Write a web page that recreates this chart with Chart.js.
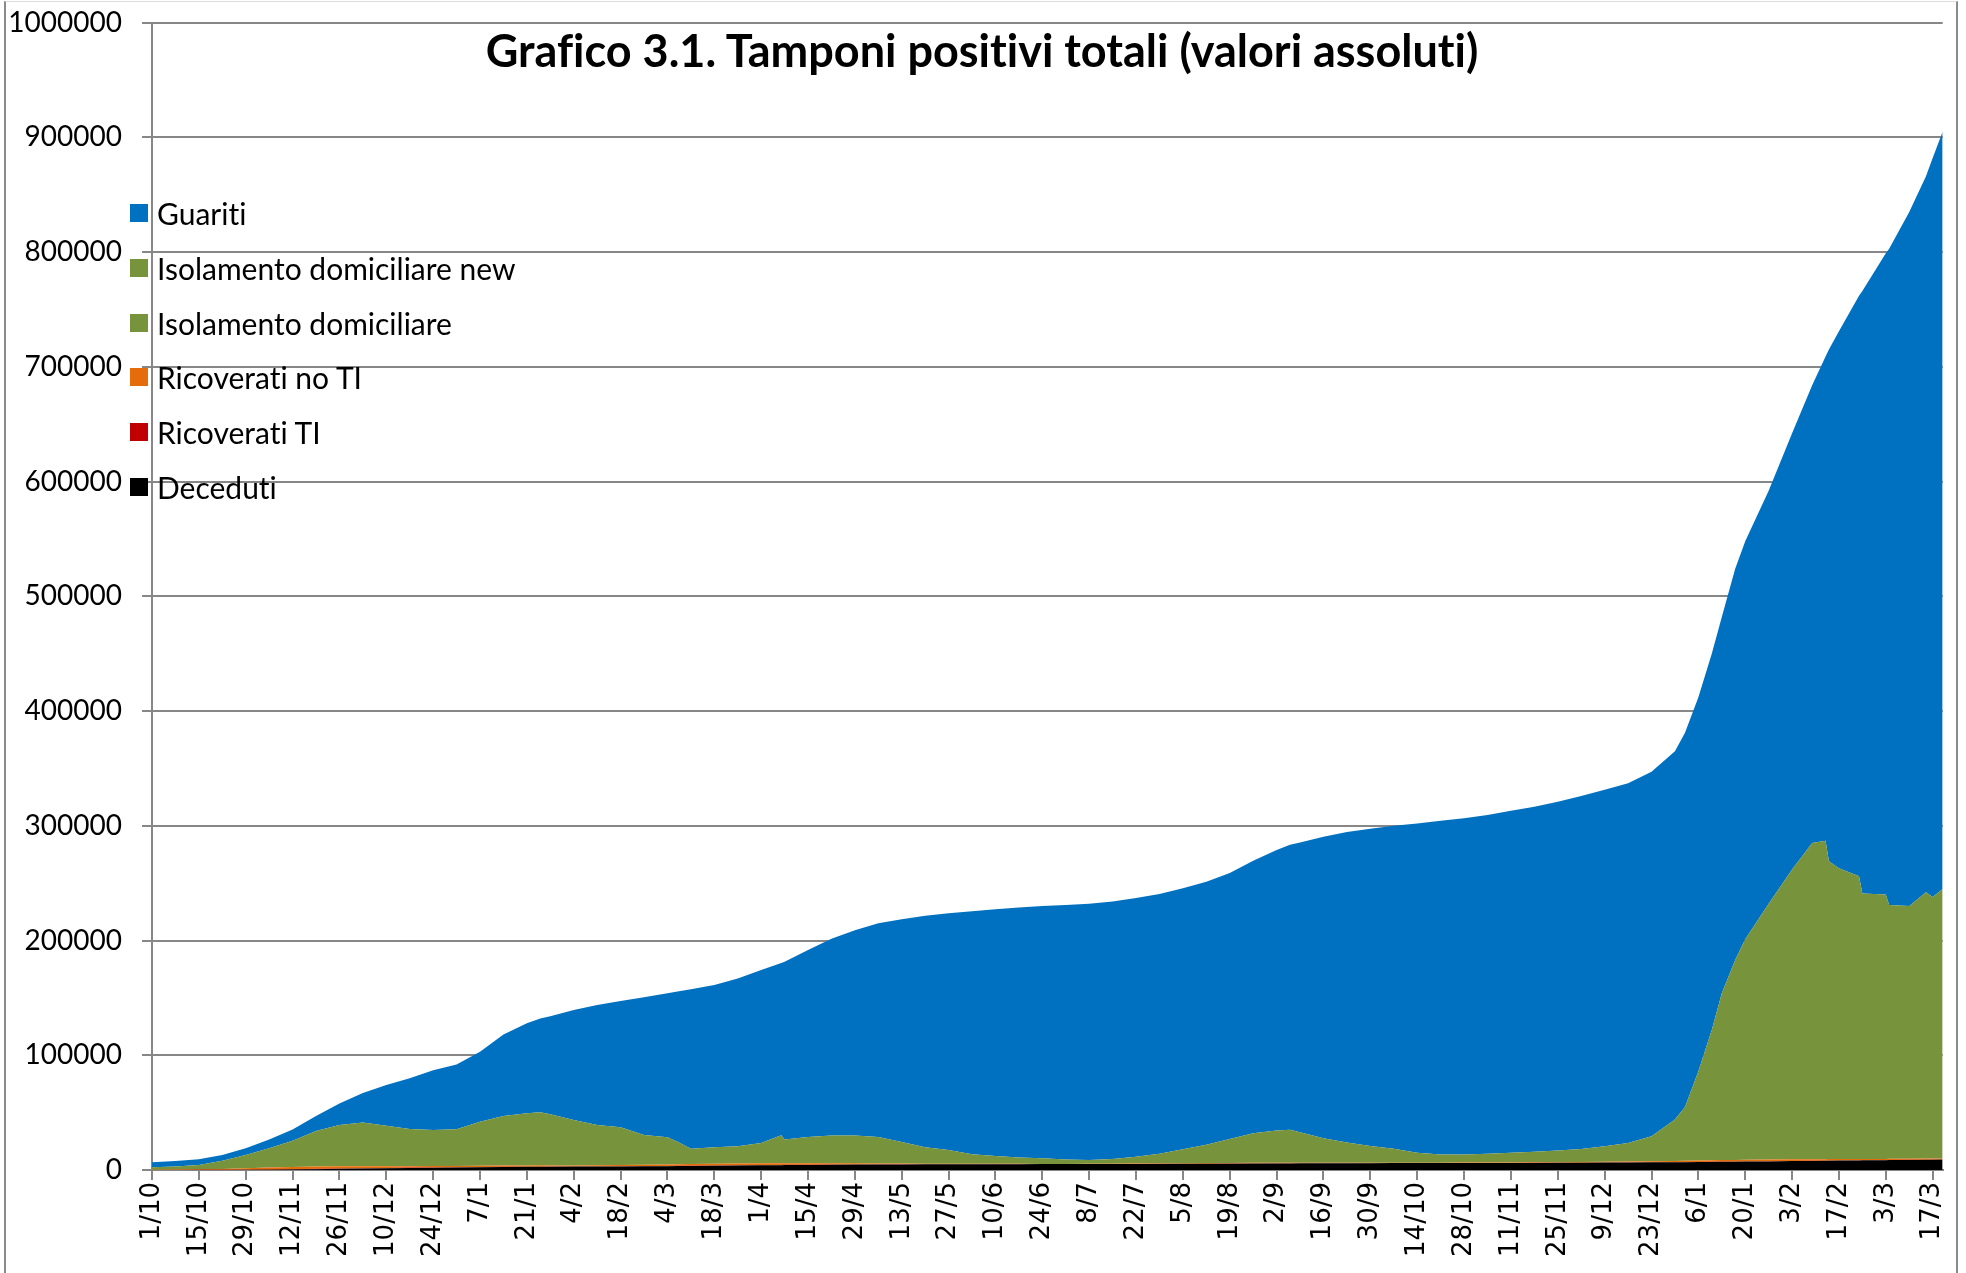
<!DOCTYPE html>
<html lang="it">
<head>
<meta charset="utf-8">
<title>Grafico 3.1. Tamponi positivi totali (valori assoluti)</title>
<script src="https://cdn.jsdelivr.net/npm/chart.js@4.4.1/dist/chart.umd.min.js"></script>
<style>
  html, body { margin: 0; padding: 0; background: #fff; }
  #wrap { position: relative; width: 1966px; height: 1273px; overflow: hidden; background: #fff; }
  #chart { position: absolute; left: 0; top: 0; }
  #frame { position: absolute; left: 4px; top: 1px; width: 1954px; height: 1300px; box-sizing: border-box;
           border-left: 2px solid #8a8a8a; border-right: 2px solid #8a8a8a; border-top: 1px solid #dcdcdc; pointer-events: none; }
  #title { position: absolute; left: 0; width: 1964px; top: 23px; text-align: center; line-height: 54px;
           font: bold 45px Lato, "Open Sans", sans-serif; color: #000; font-variant-ligatures: none; }
  #legend { position: absolute; left: 130px; top: 186px; list-style: none; margin: 0; padding: 0;
            font: 30px Lato, "Open Sans", sans-serif; color: #000; font-variant-ligatures: none; }
  #legend li { height: 54.7px; display: flex; align-items: center; }
  #legend .sw { width: 18px; height: 18px; margin-right: 9px; flex: none; }
</style>
</head>
<body>
<div id="wrap">
  <canvas id="chart" width="1966" height="1273"></canvas>
  <div id="title">Grafico 3.1. Tamponi positivi totali (valori assoluti)</div>
  <ul id="legend"></ul>
  <div id="frame"></div>
</div>
<script>
// giorni trascorsi dall'1/10/2020
const days = [0, 7, 14, 21, 28, 35, 42, 49, 56, 63,
  70, 77, 84, 91, 98, 105, 112, 116, 119, 126,
  133, 140, 147, 154, 157, 161, 168, 175, 182, 188,
  189, 196, 203, 210, 217, 224, 231, 238, 245, 252,
  259, 266, 273, 280, 287, 294, 301, 308, 315, 322,
  329, 336, 340, 343, 350, 357, 364, 371, 378, 385,
  392, 399, 406, 413, 420, 427, 434, 441, 448, 455,
  458, 462, 466, 469, 473, 476, 483, 490, 496, 500,
  501, 504, 510, 511, 518, 519, 525, 530, 532, 535];

const tickLabels = ['1/10', '15/10', '29/10', '12/11', '26/11', '10/12', '24/12', '7/1', '21/1', '4/2',
  '18/2', '4/3', '18/3', '1/4', '15/4', '29/4', '13/5', '27/5', '10/6', '24/6',
  '8/7', '22/7', '5/8', '19/8', '2/9', '16/9', '30/9', '14/10', '28/10', '11/11',
  '25/11', '9/12', '23/12', '6/1', '20/1', '3/2', '17/2', '3/3', '17/3'];

const deceduti = [0, 20, 50, 100, 170, 300, 500, 750, 1000, 1300,
  1600, 1850, 2050, 2250, 2450, 2600, 2750, 2800, 2850, 2950,
  3050, 3150, 3250, 3350, 3400, 3500, 3650, 3850, 4050, 4200,
  4250, 4400, 4550, 4700, 4800, 4900, 4950, 5000, 5050, 5100,
  5100, 5150, 5150, 5200, 5200, 5250, 5300, 5350, 5400, 5500,
  5600, 5700, 5750, 5800, 5850, 5900, 5950, 6000, 6000, 6050,
  6100, 6100, 6150, 6200, 6250, 6350, 6450, 6550, 6650, 6750,
  6800, 6900, 7000, 7100, 7200, 7300, 7500, 7750, 7950, 8050,
  8100, 8200, 8350, 8400, 8600, 8620, 8800, 8950, 9000, 9100];

const ricoveratiTI = [20, 40, 60, 80, 100, 170, 250, 280, 300, 280,
  250, 220, 200, 180, 150, 150, 140, 140, 140, 130,
  140, 150, 170, 200, 220, 240, 280, 280, 280, 260,
  260, 230, 200, 180, 150, 120, 100, 80, 60, 50,
  40, 30, 30, 30, 40, 50, 60, 70, 80, 80,
  80, 80, 80, 70, 70, 60, 50, 50, 50, 40,
  40, 40, 40, 50, 60, 70, 80, 100, 110, 120,
  130, 140, 150, 150, 150, 150, 140, 130, 120, 110,
  110, 100, 90, 90, 80, 80, 70, 70, 70, 60];

const ricoveratiNoTI = [200, 300, 500, 800, 1200, 1600, 1900, 2000, 1900, 1700,
  1500, 1300, 1200, 1100, 1100, 1100, 1100, 1100, 1000, 950,
  900, 950, 1100, 1300, 1400, 1500, 1600, 1600, 1500, 1400,
  1400, 1300, 1100, 950, 800, 650, 500, 400, 300, 250,
  200, 150, 150, 150, 200, 300, 400, 500, 550, 600,
  600, 600, 550, 500, 450, 400, 350, 300, 300, 300,
  300, 300, 350, 400, 450, 500, 600, 700, 800, 1000,
  1100, 1200, 1300, 1400, 1450, 1500, 1500, 1450, 1350, 1300,
  1300, 1200, 1100, 1100, 1000, 1000, 950, 900, 900, 900];

const isolamento = [2080, 2640, 3790, 7020, 11530, 16930, 22950, 30970, 36000, 38220,
  35150, 32430, 31450, 31970, 38300, 43150, 45410, 46260, 44510, 39570,
  35110, 32950, 25980, 23650, 19680, 13260, 14270, 15070, 17670, 24340,
  20690, 22870, 24250, 24270, 23050, 18830, 14250, 11920, 8390, 6800,
  5660, 4870, 3870, 3320, 4160, 5900, 8440, 12080, 15970, 20820,
  25720, 28120, 28620, 26630, 21230, 17640, 14650, 12150, 8650, 7010,
  7060, 7760, 8460, 9350, 10240, 11380, 13670, 16150, 21940, 36130,
  46970, 77760, 113550, 145350, 174200, 192050, 222860, 252670, 275580, 277540,
  259490, 253500, 246460, 231410, 230320, 221300, 220180, 232080, 228030, 234940];

const isolamentoNew = [0, 0, 0, 0, 0, 0, 0, 0, 0, 0,
  0, 0, 0, 0, 0, 0, 0, 0, 0, 0,
  0, 0, 0, 0, 0, 0, 0, 0, 0, 0,
  0, 0, 0, 0, 0, 0, 0, 0, 0, 0,
  0, 0, 0, 0, 0, 0, 0, 0, 0, 0,
  0, 0, 0, 0, 0, 0, 0, 0, 0, 0,
  0, 0, 0, 0, 0, 0, 0, 0, 0, 0,
  0, 0, 0, 0, 0, 0, 0, 0, 0, 0,
  0, 0, 0, 0, 0, 0, 0, 0, 0, 0];

const guariti = [4400, 4800, 4900, 5000, 5900, 7500, 9800, 13000, 18800, 25500,
  35500, 44200, 52100, 56500, 61000, 71000, 78600, 81700, 85500, 95900,
  104600, 110100, 120000, 125500, 130800, 139000, 141400, 146200, 150800, 150300,
  154900, 162900, 171400, 178900, 186200, 194000, 201700, 206300, 211700, 215000,
  217700, 219800, 221800, 223300, 224400, 225500, 226300, 227500, 229300, 231800,
  237500, 244500, 248500, 252500, 262900, 270500, 276500, 281500, 287000, 290900,
  293000, 295300, 298000, 300500, 304000, 307700, 310700, 313500, 317500, 321000,
  326000, 326000, 328000, 328000, 341000, 347000, 360000, 380000, 399000, 422000,
  446000, 468000, 506000, 525000, 559000, 572000, 605000, 624000, 644000, 660000];

const series = [
  { label: 'Deceduti', values: deceduti, color: '#000000' },
  { label: 'Ricoverati TI', values: ricoveratiTI, color: '#C00000' },
  { label: 'Ricoverati no TI', values: ricoveratiNoTI, color: '#E46C0A' },
  { label: 'Isolamento domiciliare', values: isolamento, color: '#77933C' },
  { label: 'Isolamento domiciliare new', values: isolamentoNew, color: '#77933C' },
  { label: 'Guariti', values: guariti, color: '#0070C0' }
];

const GRID = '#878787';
const numFont = { family: 'Lato, "Open Sans", sans-serif', size: 28 };

function run() {
  const datasets = series.map((s, i) => ({
    label: s.label,
    data: days.map((d, j) => ({ x: d, y: s.values[j] })),
    backgroundColor: s.color,
    borderColor: s.color,
    borderWidth: 0,
    pointRadius: 0,
    fill: i === 0 ? 'origin' : '-1',
    tension: 0
  }));

  new Chart(document.getElementById('chart'), {
    type: 'line',
    data: { datasets },
    options: {
      responsive: false,
      animation: false,
      layout: { padding: { left: 0, right: 23, top: 22.6, bottom: 0 } },
      plugins: { legend: { display: false }, tooltip: { enabled: false }, title: { display: false } },
      scales: {
        x: {
          type: 'linear',
          min: 0,
          max: days[days.length - 1],
          afterBuildTicks: s => { s.ticks = tickLabels.map((_, i) => ({ value: i * 14 })); },
          afterFit: s => { s.height = 103; s.paddingTop = 0; s.paddingBottom = 0; },
          grid: { display: true, drawOnChartArea: false, drawTicks: true, tickLength: 10, color: GRID, lineWidth: 2 },
          border: { display: true, color: GRID, width: 2 },
          ticks: {
            autoSkip: false, minRotation: 90, maxRotation: 90, padding: 2, color: '#000',
            font: { family: '"DejaVu Sans", sans-serif', size: 26 },
            callback: v => tickLabels[Math.round(v / 14)]
          }
        },
        y: {
          stacked: true,
          min: 0,
          max: 1000000,
          afterFit: s => { s.width = 152; s.paddingTop = 0; s.paddingBottom = 0; },
          grid: { color: GRID, lineWidth: 2, tickLength: 10 },
          border: { display: true, color: GRID, width: 2 },
          ticks: { stepSize: 100000, padding: 20, color: '#000', font: numFont, callback: v => String(v) }
        }
      }
    }
  });

  const legend = document.getElementById('legend');
  series.slice().reverse().forEach(s => {
    const li = document.createElement('li');
    li.innerHTML = `<span class="sw" style="background:${s.color}"></span><span>${s.label}</span>`;
    legend.appendChild(li);
  });
}

run();
</script>
</body>
</html>
